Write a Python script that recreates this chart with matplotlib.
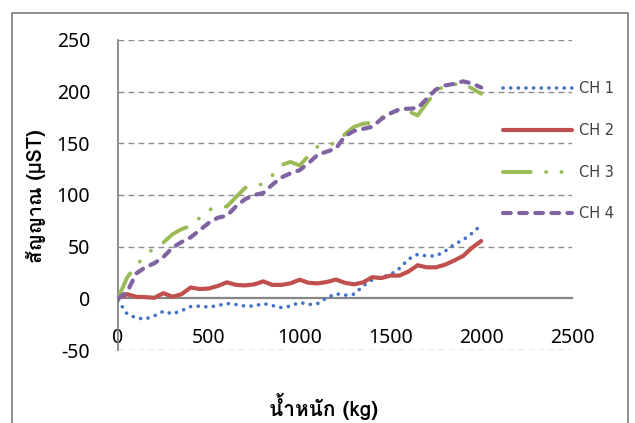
import matplotlib
matplotlib.use("Agg")
import matplotlib.pyplot as plt
from matplotlib import font_manager
from matplotlib.ft2font import FT2Font
from matplotlib.patches import Rectangle

plt.rcParams['lines.scale_dashes'] = False
plt.rcParams['axes.unicode_minus'] = False

# weight (kg) and channel signals (µST)
weight = [0, 50, 100, 150, 200, 250, 300, 350, 400, 450, 500, 550, 600, 650, 700,
          750, 800, 850, 900, 950, 1000, 1050, 1100, 1150, 1200, 1250, 1300, 1350,
          1400, 1450, 1500, 1550, 1600, 1650, 1700, 1750, 1800, 1850, 1900, 1950, 2000]

ch1 = [-2, -15, -19, -20, -17, -12.5, -15, -12, -8, -7.5, -8.5, -7, -5, -6, -7.5,
       -7.5, -5, -7, -9, -7.5, -4, -6, -5, 0.5, 4.5, 3, 4, 12,
       18, 20.5, 23, 29, 38, 42.5, 41, 41, 45.5, 52, 56.5, 63, 71]

ch2 = [0, 4, 1.5, 1.2, 0.5, 5, 1.5, 4, 10.5, 9, 9.5, 12, 15.5, 13, 12.5,
       13.5, 16.4, 13, 13, 14.5, 18, 15, 14.5, 15.8, 18.2, 15, 13.5, 15.5,
       20.5, 19.6, 22, 22, 26, 32, 30, 30, 32.5, 36.5, 41, 49, 55.5]

ch3 = [0, 20, 32, 41, 49, 54, 62, 67, 70, 78, 86, 87, 89, 98, 107,
       108, 111, 119, 129, 132, 128.6, 138, 147, 149, 150, 159, 166, 169,
       170, 175, 179, 182, 181, 177, 189, 200, 206, 207, 208, 203, 198]

ch4 = [0, 6, 24, 30, 34, 40, 49, 54.5, 59, 66, 73, 78, 80, 89, 96,
       100, 102, 110, 117, 121, 124, 131, 139, 142, 145, 157, 162, 164,
       166, 173.5, 179, 183, 183.5, 184, 193, 202, 206, 207.5, 210, 208, 204]

series_names = ["CH 1", "CH 2", "CH 3", "CH 4"]
x_ticks = [0, 500, 1000, 1500, 2000, 2500]
y_ticks = [-50, 0, 50, 100, 150, 200, 250]
x_title = "น้ำหนัก (kg)"
y_title = "สัญญาณ (µST)"


def find_font_with(char):
    for f in font_manager.fontManager.ttflist:
        try:
            if FT2Font(f.fname).get_char_index(ord(char)):
                return f.name
        except Exception:
            continue
    return "DejaVu Sans"


thai_font = find_font_with("น")
label_family = [thai_font, "DejaVu Sans"]

W, H, DPI = 635, 423, 100
fig = plt.figure(figsize=(W / DPI, H / DPI), dpi=DPI)
fig.patch.set_facecolor("white")

# chart-area frame
fig.patches.append(Rectangle((12 / W, -0.1), (628 - 12) / W, 1.1 - 13 / H,
                             transform=fig.transFigure, fill=False,
                             edgecolor="#878787", linewidth=1.3, zorder=0))

ax = fig.add_axes([118 / W, 1 - 350 / H, (572 - 118) / W, (350 - 40) / H])
ax.set_xlim(0, 2500)
ax.set_ylim(-50, 250)

grid_kw = dict(color="#8c8c8c", linewidth=1.0, dashes=(4.2, 3.0))
for yv in y_ticks:
    if yv != 0:
        ax.axhline(yv, zorder=1, **grid_kw)

for s in ["top", "right"]:
    ax.spines[s].set_visible(False)
ax.spines["left"].set_color("#868686")
ax.spines["left"].set_linewidth(1.3)
ax.spines["bottom"].set_position(("data", 0))
ax.spines["bottom"].set_color("#868686")
ax.spines["bottom"].set_linewidth(1.6)

ax.set_xticks(x_ticks)
ax.set_yticks(y_ticks)
ax.tick_params(axis="both", length=0, labelsize=14, labelcolor="black")
ax.tick_params(axis="x", pad=21)
ax.tick_params(axis="y", pad=20)
for lab in ax.get_xticklabels() + ax.get_yticklabels():
    lab.set_family("Noto Sans")

l1, = ax.plot(weight, ch1, color="#4472C4", linewidth=2.6,
              dashes=(0.1, 5.4), dash_capstyle="round", label=series_names[0], zorder=3)
l2, = ax.plot(weight, ch2, color="#C0504D", linewidth=3.0,
              solid_capstyle="round", label=series_names[1], zorder=3)
l3, = ax.plot(weight, ch3, color="#9BBB59", linewidth=2.8,
              dashes=(20.0, 11.0, 0.1, 11.0, 0.1, 11.0), dash_capstyle="round",
              label=series_names[2], zorder=3)
l4, = ax.plot(weight, ch4, color="#8064A2", linewidth=3.0,
              dashes=(5.6, 6.0), dash_capstyle="round", label=series_names[3], zorder=4)

leg = ax.legend(handles=[l1, l2, l3, l4], loc="upper left",
                bbox_to_anchor=(503 / W, 1 - 81 / H), bbox_transform=fig.transFigure,
                frameon=False, fontsize=10.5, handlelength=4.7, handletextpad=0.5,
                labelspacing=1.84, borderpad=0, borderaxespad=0)
for t in leg.get_texts():
    t.set_color("#404040")

fig.text(324 / W, 1 - 406 / H, x_title, ha="center", va="center",
         fontsize=15, fontweight="bold", family=label_family)
fig.text(36 / W, 1 - 196 / H, y_title, ha="center", va="center", rotation=90,
         fontsize=14.5, fontweight="bold", family=label_family)

fig.savefig("out.png", dpi=DPI)
